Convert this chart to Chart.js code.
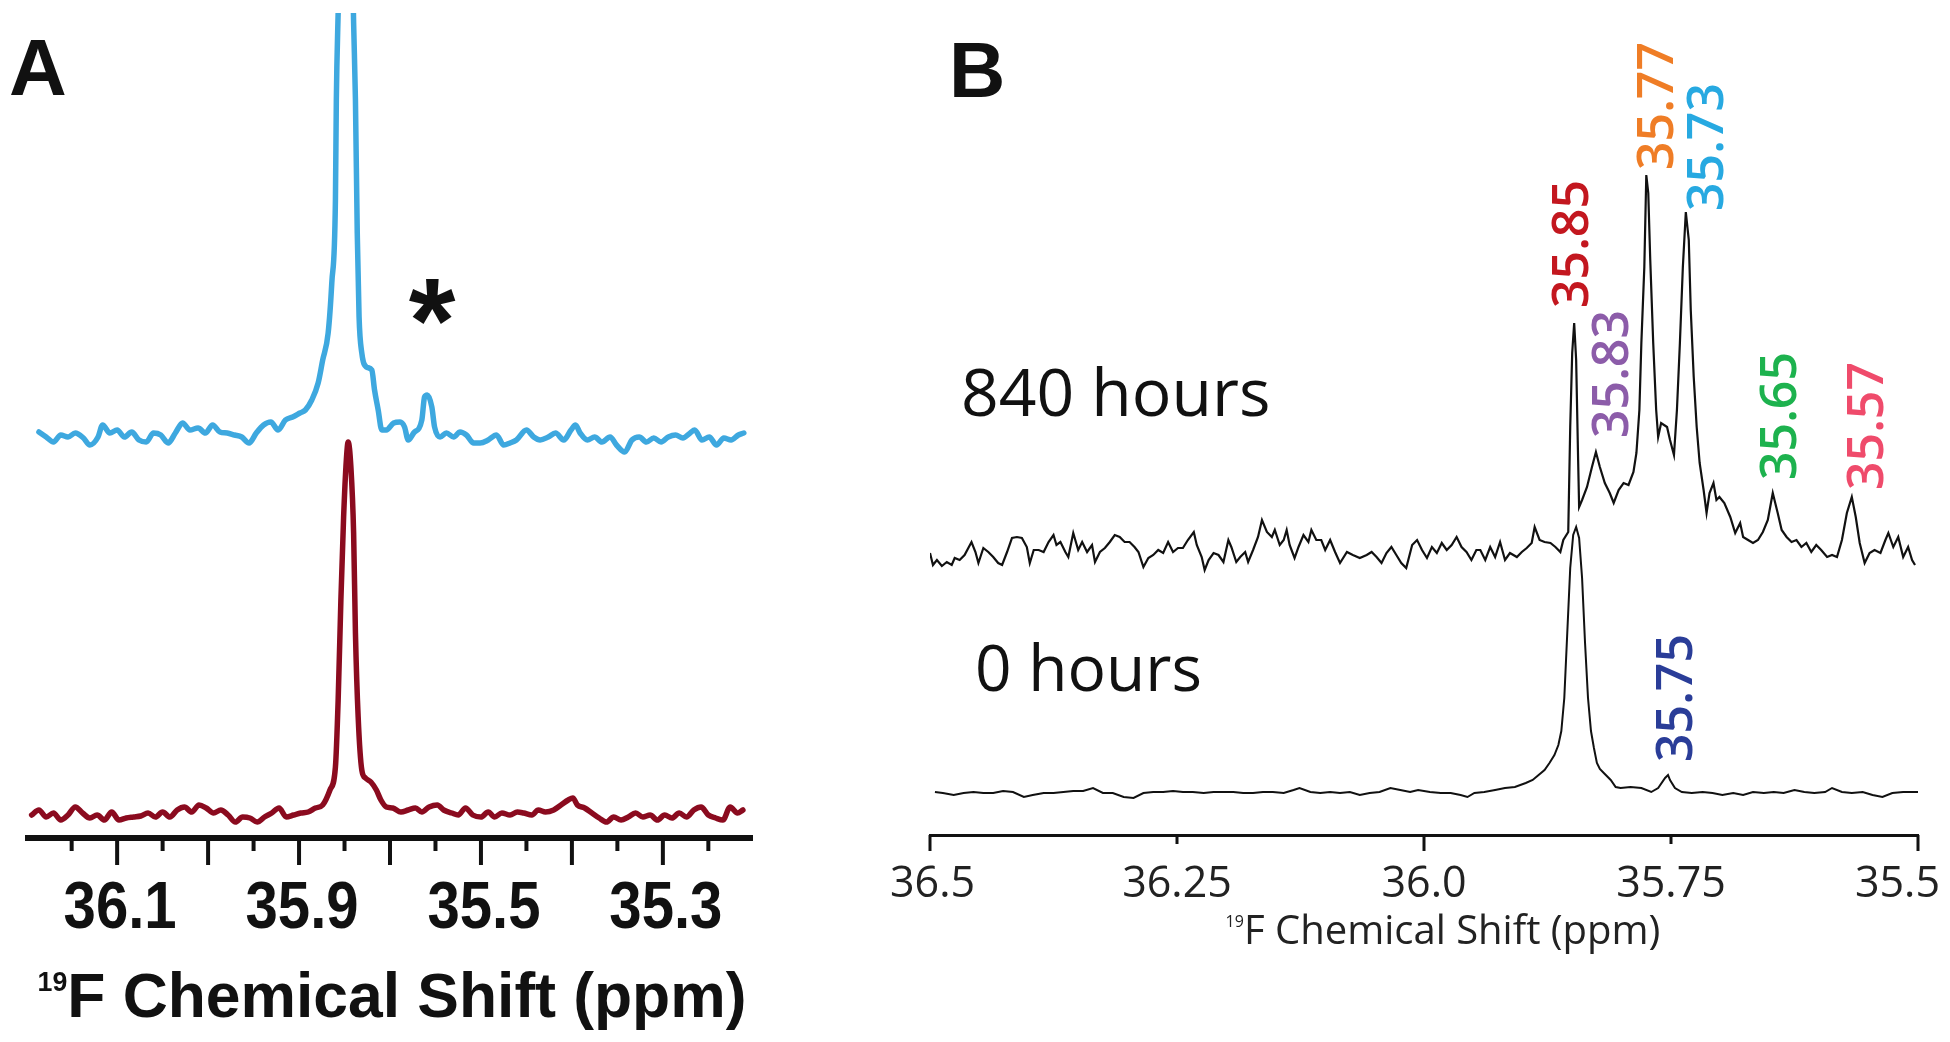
<!DOCTYPE html>
<html><head><meta charset="utf-8">
<script src="https://cdn.jsdelivr.net/npm/chart.js@4"></script>
<style>
html,body{margin:0;padding:0;background:#fff;width:1950px;height:1042px;overflow:hidden}
canvas{position:absolute;top:0}
#cA{left:0}
#cB{left:880px}
</style></head><body>
<canvas id="cA" width="780" height="1042"></canvas>
<canvas id="cB" width="1070" height="1042"></canvas>
<script>
// ---------------- Panel A data (19F chemical shift, ppm / intensity a.u.) ----------------
const ppmA_blue = [36.186,36.178,36.170,36.162,36.154,36.146,36.137,36.130,36.121,36.116,36.108,36.100,36.092,36.084,36.076,36.068,36.060,36.052,36.044,36.036,36.028,36.020,36.011,36.003,35.995,35.987,35.979,35.971,35.963,35.955,35.947,35.939,35.931,35.923,35.915,35.907,35.899,35.893,35.886,35.879,35.874,35.868,35.864,35.860,35.859,35.857,35.852,35.848,35.844,35.840,35.838,35.836,35.834,35.831,35.826,35.820,35.817,35.813,35.809,35.804,35.796,35.789,35.784,35.780,35.774,35.765,35.762,35.759,35.754,35.751,35.745,35.738,35.730,35.723,35.716,35.708,35.701,35.692,35.683,35.675,35.668,35.661,35.650,35.642,35.635,35.626,35.618,35.609,35.601,35.596,35.591,35.583,35.575,35.567,35.558,35.551,35.542,35.534,35.526,35.518,35.510,35.502,35.494,35.486,35.478,35.470,35.465,35.457,35.449,35.441,35.433,35.425,35.417,35.411];
const intA_blue = [5,0,-5,2,0,4,-1,-8,0,12,4,7,0,5,-3,-5,4,2,-6,4,14,7,9,4,12,5,4,2,0,-6,4,12,15,7,17,20,24,27,37,54,77,104,154,237,337,424,600,650,600,414,337,204,120,84,70,67,47,27,7,7,14,15,10,-3,4,17,40,42,30,10,0,4,0,5,2,-6,-6,-3,2,-8,-6,-3,7,0,-3,0,4,-3,7,12,4,-3,0,-5,0,-8,-15,-3,0,-5,-1,-5,0,2,-1,4,7,-3,0,-8,-1,-3,2,4];
const ppmA_red = [36.194,36.186,36.178,36.170,36.162,36.154,36.146,36.138,36.130,36.122,36.114,36.106,36.098,36.090,36.082,36.074,36.066,36.058,36.050,36.042,36.034,36.026,36.018,36.010,36.002,35.994,35.986,35.978,35.970,35.962,35.954,35.946,35.938,35.930,35.922,35.914,35.906,35.898,35.890,35.882,35.874,35.866,35.860,35.857,35.854,35.851,35.848,35.846,35.843,35.840,35.838,35.835,35.831,35.827,35.821,35.815,35.810,35.804,35.797,35.788,35.780,35.772,35.765,35.757,35.748,35.741,35.732,35.725,35.717,35.709,35.700,35.692,35.685,35.677,35.668,35.660,35.653,35.644,35.637,35.629,35.620,35.612,35.604,35.599,35.594,35.586,35.578,35.570,35.562,35.554,35.546,35.538,35.530,35.522,35.514,35.506,35.498,35.490,35.482,35.474,35.466,35.458,35.450,35.442,35.434,35.426,35.418,35.412];
const intA_red = [2,7,0,4,-3,2,10,4,-1,2,-3,5,-3,-1,0,1,4,0,5,0,7,10,5,12,9,4,7,2,-5,0,-1,-5,0,4,9,0,2,4,5,9,12,27,50,117,217,300,357,375,350,284,184,100,47,39,35,27,17,10,9,5,7,9,5,10,12,7,4,2,9,2,0,5,0,4,2,5,4,2,7,5,7,12,17,19,12,9,4,-1,-5,0,-3,0,4,0,2,-3,2,-1,4,0,7,10,2,-1,-3,10,4,7];
const tickMarksA = [36.15,36.10,36.05,36.00,35.95,35.90,35.85,35.80,35.75,35.70,35.65,35.60,35.55,35.50,35.45];
const tickValuesA = [36.1,35.9,35.7,35.5];
const tickLabelsA = ["36.1","35.9","35.5","35.3"];

// ---------------- Panel B data ----------------
const ppmB_840 = [36.500,36.497,36.493,36.488,36.483,36.478,36.475,36.470,36.465,36.458,36.454,36.451,36.446,36.441,36.436,36.431,36.427,36.422,36.417,36.412,36.407,36.402,36.399,36.395,36.390,36.385,36.380,36.375,36.372,36.368,36.363,36.360,36.355,36.350,36.346,36.341,36.336,36.333,36.328,36.323,36.318,36.313,36.308,36.303,36.298,36.293,36.289,36.284,36.279,36.274,36.269,36.264,36.259,36.254,36.249,36.244,36.239,36.233,36.230,36.225,36.222,36.218,36.213,36.208,36.203,36.198,36.195,36.190,36.186,36.181,36.178,36.173,36.168,36.164,36.159,36.154,36.151,36.146,36.142,36.139,36.136,36.131,36.127,36.122,36.117,36.114,36.109,36.104,36.100,36.095,36.090,36.085,36.078,36.072,36.065,36.058,36.053,36.048,36.043,36.038,36.033,36.028,36.023,36.018,36.012,36.007,
36.002,35.997,35.992,35.987,35.982,35.977,35.972,35.967,35.962,35.957,35.952,35.947,
35.943,35.938,35.933,35.928,35.923,35.918,35.913,35.906,35.901,35.896,35.891,35.888,35.883,35.878,35.872,35.867,35.862,35.859,35.854,35.852,35.850,35.848,35.846,35.844,35.843,35.840,35.835,35.830,35.826,35.822,35.817,35.812,35.808,35.803,35.798,35.793,35.788,35.785,35.782,35.780,35.777,35.775,35.773,35.771,35.768,35.765,35.763,35.760,35.754,35.751,35.747,35.744,35.741,35.738,35.735,35.732,35.730,35.727,35.724,35.721,35.717,35.714,35.711,35.707,35.704,35.701,35.696,35.690,35.685,35.680,35.677,35.672,35.667,35.662,35.657,35.652,35.647,35.642,35.638,35.633,35.628,35.623,35.618,35.613,35.608,35.603,35.598,35.592,35.587,35.582,35.577,35.572,35.567,35.563,35.559,35.554,35.549,35.544,35.538,35.533,35.530,35.525,35.520,35.515,35.510,35.506,35.503];
const intB_840 = [2,-10,-5,-11,-7,-10,-3,-5,0,13,3,-8,7,3,-2,-8,-10,3,17,18,17,8,-8,5,5,3,13,20,10,13,3,-2,22,5,13,3,10,-7,3,7,13,20,18,13,13,8,3,-12,-3,0,5,2,13,3,7,7,15,23,10,-2,-15,-5,2,0,-7,15,8,-7,-2,3,-7,5,18,35,23,18,25,10,15,25,10,-3,8,20,13,25,15,15,5,15,3,-8,3,0,-3,0,3,-2,-8,2,8,0,-8,-13,10,15,
5,-3,8,2,12,5,10,18,8,3,-5,5,
5,-5,8,-2,13,-5,2,-2,3,7,12,28,15,13,12,8,3,15,23,128,202,232,195,95,48,55,68,88,103,88,72,62,52,65,72,70,83,102,145,212,288,380,362,295,212,145,118,132,128,115,100,145,212,288,343,315,245,178,128,92,65,42,62,72,55,58,52,38,22,32,18,15,12,15,23,35,62,42,25,18,13,15,8,12,3,10,5,-2,0,-2,15,42,58,38,12,-8,2,5,2,15,22,8,18,-2,8,-5,-10];
const ppmB_0 = [36.495,36.487,36.476,36.466,36.456,36.446,36.436,36.426,36.416,36.405,36.396,36.385,36.375,36.365,36.355,36.345,36.335,36.325,36.315,36.304,36.294,36.284,36.274,36.264,36.254,36.244,36.234,36.223,36.213,36.203,36.193,36.183,36.173,36.163,36.153,36.142,36.132,36.126,36.115,36.105,36.095,36.085,36.075,36.065,36.055,36.045,36.034,36.024,36.014,36.006,
35.994,35.983,35.973,35.963,35.956,35.949,35.939,35.928,35.918,35.908,35.897,35.890,35.884,35.878,35.873,35.868,35.864,35.861,35.858,35.855,35.852,35.849,35.846,35.843,35.840,35.837,35.834,35.831,35.828,35.825,35.822,35.818,35.811,35.806,35.801,35.791,35.780,35.770,35.763,35.756,35.753,35.751,35.746,35.739,35.729,35.718,35.708,35.698,35.687,35.677,35.667,35.656,35.646,35.636,35.625,35.615,35.605,35.594,35.587,35.577,35.567,35.556,35.546,35.536,35.526,35.515,35.505,35.500];
const intB_0 = [1,0,-2,0,1,0,0,2,1,-4,-2,0,0,1,2,2,5,0,0,-4,-5,0,1,1,2,1,1,0,1,1,1,0,0,1,1,0,3,5,1,0,1,0,1,-2,0,1,5,3,1,3,
1,0,0,-2,-4,0,1,3,5,6,10,13,18,23,30,38,48,62,95,160,225,258,266,255,215,150,95,62,45,30,24,20,13,6,5,6,5,1,5,15,18,13,5,1,0,1,0,-2,0,-2,1,0,1,0,3,1,0,1,5,1,0,1,-2,-4,0,1,1,1];
const tickValuesB = [36.5,36.25,36.0,35.75,35.5];
const tickLabelsB = ["36.5","36.25","36.0","35.75","35.5"];
const peakLabelText  = ["35.85","35.83","35.77","35.73","35.65","35.57","35.75"];
const peakLabelColor = ["#c3171f","#8c5ca9","#ef7d26","#27a9e1","#1db24e","#ef4b6b","#2a3d98"];
const peakLabelPpm   = [35.852,35.812,35.766,35.716,35.642,35.554,35.747];
const peakLabelBase  = [527,397,665,624,355,345,73];

// layout constants (vertical stacking of the traces, in axis units)
const OFF_A_BLUE = 401, OFF_A_RED = 21, OFF_B_840 = 280, OFF_B_0 = 42;

function check(a,b,n){ if(a.length!==b.length) throw new Error(n+' length mismatch '+a.length+' vs '+b.length); }
check(ppmA_blue,intA_blue,'A blue'); check(ppmA_red,intA_red,'A red');
check(ppmB_840,intB_840,'B 840'); check(ppmB_0,intB_0,'B 0');

const pts = (xs, ys, off) => xs.map((x,i)=>({x:x, y:ys[i]+off}));

function supTitle(ctx, cx, baseline, sup, main, supFont, mainFont, raise, sx){
  ctx.font = supFont; const ws = ctx.measureText(sup).width;
  ctx.font = mainFont; const wm = ctx.measureText(main).width;
  const total = (ws + wm) * sx;
  ctx.save();
  ctx.translate(cx - total/2, baseline); ctx.scale(sx, 1);
  ctx.textAlign = 'left'; ctx.textBaseline = 'alphabetic';
  ctx.font = supFont; ctx.fillText(sup, 0, -raise);
  ctx.font = mainFont; ctx.fillText(main, ws, 0);
  ctx.restore();
}

const panelAPlugin = {
  id: 'panelA',
  afterDraw(chart){
    const ctx = chart.ctx, xs = chart.scales.x, bottom = chart.chartArea.bottom;
    ctx.save();
    ctx.strokeStyle = '#111'; ctx.lineWidth = 4;
    tickMarksA.forEach(v => {
      const px = xs.getPixelForValue(v);
      const major = Math.abs(v*10 - Math.round(v*10)) < 1e-6;
      ctx.beginPath(); ctx.moveTo(px, bottom); ctx.lineTo(px, bottom + (major ? 27 : 13)); ctx.stroke();
    });
    ctx.fillStyle = '#111'; ctx.textAlign = 'center'; ctx.textBaseline = 'alphabetic';
    ctx.font = 'bold 66px "Liberation Sans", Arial, sans-serif';
    tickValuesA.forEach((v,i) => {
      const px = xs.getPixelForValue(v);
      ctx.save(); ctx.translate(px + 3, 928); ctx.scale(0.88, 1); ctx.fillText(tickLabelsA[i], 0, 0); ctx.restore();
    });
    supTitle(ctx, (xs.left + xs.right)/2 + 2, 1017, '19', 'F Chemical Shift (ppm)',
      'bold 27px "Liberation Sans", Arial, sans-serif', 'bold 63px "Liberation Sans", Arial, sans-serif', 26, 0.99);
    ctx.textAlign = 'left';
    ctx.font = 'bold 80px "Liberation Sans", Arial, sans-serif';
    ctx.fillText('A', 9, 95);
    ctx.textAlign = 'center';
    ctx.font = 'bold 120px "Liberation Sans", Arial, sans-serif';
    ctx.fillText('*', 432, 362);
    ctx.restore();
  }
};

const panelBPlugin = {
  id: 'panelB',
  afterDraw(chart){
    const ctx = chart.ctx, xs = chart.scales.x, ys = chart.scales.y, bottom = chart.chartArea.bottom;
    const W = chart.width;
    ctx.save();
    ctx.strokeStyle = '#111'; ctx.lineWidth = 3;
    tickValuesB.forEach(v => {
      const px = xs.getPixelForValue(v);
      const major = Math.abs(v*2 - Math.round(v*2)) < 1e-6;
      ctx.beginPath(); ctx.moveTo(px, bottom); ctx.lineTo(px, bottom + (major ? 16 : 9)); ctx.stroke();
    });
    ctx.fillStyle = '#222'; ctx.textBaseline = 'alphabetic'; ctx.textAlign = 'center';
    ctx.font = '43px "Open Sans", "Noto Sans", sans-serif';
    tickValuesB.forEach((v,i) => {
      let px = xs.getPixelForValue(v);
      const w = ctx.measureText(tickLabelsB[i]).width;
      if (px + w/2 > W - 10) px = W - 10 - w/2;
      if (px - w/2 < 10) px = 10 + w/2;
      ctx.fillText(tickLabelsB[i], px, 897);
    });
    supTitle(ctx, (xs.left + xs.right)/2 + 19, 944, '19', 'F Chemical Shift (ppm)',
      '16px "Open Sans", "Noto Sans", sans-serif', '40px "Open Sans", "Noto Sans", sans-serif', 17, 1);
    // peak labels (rotated)
    ctx.font = '600 50px "Open Sans", "Noto Sans", sans-serif';
    ctx.textAlign = 'left'; ctx.textBaseline = 'alphabetic';
    peakLabelText.forEach((t,i) => {
      const x = xs.getPixelForValue(peakLabelPpm[i]);
      const y = ys.getPixelForValue(peakLabelBase[i]);
      ctx.save(); ctx.translate(x, y); ctx.rotate(-Math.PI/2);
      ctx.fillStyle = peakLabelColor[i];
      ctx.fillText(t, 0, 18);
      ctx.restore();
    });
    ctx.fillStyle = '#111';
    ctx.font = '66px "Open Sans", "Noto Sans", sans-serif';
    ctx.fillText('840 hours', 81, 416);
    ctx.font = '64px "Open Sans", "Noto Sans", sans-serif';
    ctx.fillText('0 hours', 95, 691);
    ctx.font = 'bold 78px "Liberation Sans", Arial, sans-serif';
    ctx.fillText('B', 69, 97);
    ctx.restore();
  }
};

const common = (pad, axisH, borderW, xmin, xmax, ymax) => ({
  responsive: false, animation: false, devicePixelRatio: 1,
  layout: { padding: pad },
  plugins: { legend: { display: false }, tooltip: { enabled: false } },
  elements: { point: { radius: 0 } },
  scales: {
    x: { type: 'linear', reverse: true, min: xmin, max: xmax,
      grid: { display: false }, ticks: { display: false },
      border: { display: true, color: '#111', width: borderW },
      afterFit(s){ s.height = axisH; s.paddingLeft = 0; s.paddingRight = 0; } },
    y: { display: false, min: 0, max: ymax }
  }
});

new Chart(document.getElementById('cA'), {
  type: 'line',
  data: { datasets: [
    { data: pts(ppmA_blue, intA_blue, OFF_A_BLUE), borderColor: '#3ea8df', borderWidth: 5.5, cubicInterpolationMode: 'monotone', borderJoinStyle: 'round', borderCapStyle: 'round' },
    { data: pts(ppmA_red, intA_red, OFF_A_RED), borderColor: '#8b0b1f', borderWidth: 5.5, cubicInterpolationMode: 'monotone', borderJoinStyle: 'round', borderCapStyle: 'round' }
  ]},
  options: common({left: 28, right: 28, top: 13, bottom: 0}, 204, 6, 35.402, 36.198, 825),
  plugins: [panelAPlugin]
});

new Chart(document.getElementById('cB'), {
  type: 'line',
  data: { datasets: [
    { data: pts(ppmB_840, intB_840, OFF_B_840), borderColor: '#111', borderWidth: 2.2, tension: 0, borderJoinStyle: 'miter' },
    { data: pts(ppmB_0, intB_0, OFF_B_0), borderColor: '#111', borderWidth: 2, tension: 0, borderJoinStyle: 'miter' }
  ]},
  options: common({left: 50, right: 32, top: 30, bottom: 0}, 207, 3, 35.5, 36.5, 805),
  plugins: [panelBPlugin]
});
</script></body></html>
